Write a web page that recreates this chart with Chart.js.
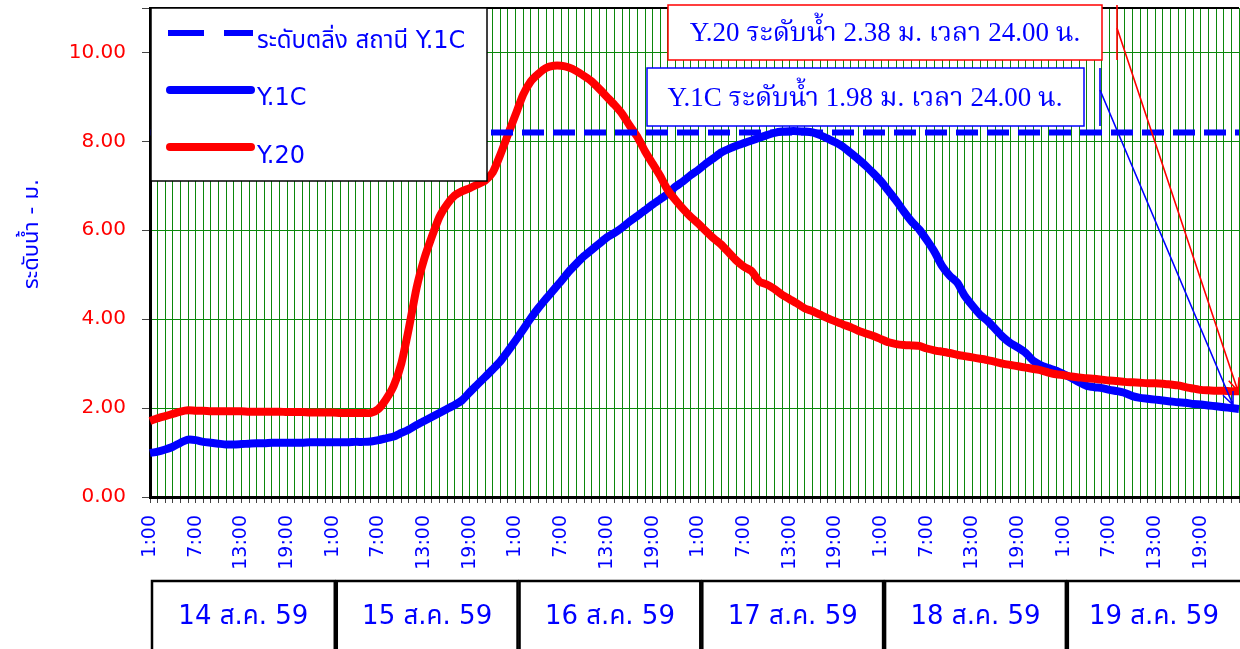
<!DOCTYPE html>
<html lang="th">
<head>
  <meta charset="UTF-8" />
  <title>ระดับน้ำ Y.1C และ Y.20</title>
  <script src="https://cdn.jsdelivr.net/npm/chart.js"></script>
  <style>
    html, body {
      margin: 0;
      padding: 0;
      background: #fff;
    }
    canvas {
      display: block;
    }
  </style>
</head>
<body>
  <canvas id="levelChart" width="1240" height="649"></canvas>

  <script>
    // days shown under the axis
    const days = ['14 ส.ค. 59', '15 ส.ค. 59', '16 ส.ค. 59', '17 ส.ค. 59', '18 ส.ค. 59', '19 ส.ค. 59'];
    const hours = ['1:00', '2:00', '3:00', '4:00', '5:00', '6:00', '7:00', '8:00', '9:00', '10:00', '11:00', '12:00',
                   '13:00', '14:00', '15:00', '16:00', '17:00', '18:00', '19:00', '20:00', '21:00', '22:00', '23:00', '24:00'];
    const tickHours = ['1:00', '7:00', '13:00', '19:00'];

    // hourly water level (m), one row per day
    const y1c = [
      0.99, 1.02, 1.07, 1.13, 1.22, 1.29, 1.28, 1.24, 1.22, 1.20, 1.18, 1.18, 1.19, 1.20, 1.21, 1.21, 1.22, 1.22, 1.22, 1.22, 1.22, 1.23, 1.23, 1.23,
      1.23, 1.23, 1.23, 1.24, 1.24, 1.25, 1.28, 1.32, 1.36, 1.44, 1.52, 1.62, 1.71, 1.80, 1.89, 1.98, 2.07, 2.18, 2.36, 2.53, 2.70, 2.87, 3.05, 3.28,
      3.52, 3.77, 4.02, 4.25, 4.46, 4.66, 4.86, 5.07, 5.25, 5.42, 5.56, 5.70, 5.84, 5.94, 6.06, 6.20, 6.32, 6.45, 6.58, 6.70, 6.82, 6.98, 7.10, 7.24,
      7.36, 7.50, 7.62, 7.75, 7.83, 7.90, 7.96, 8.02, 8.08, 8.14, 8.19, 8.22, 8.23, 8.23, 8.22, 8.20, 8.14, 8.06, 7.98, 7.88, 7.74, 7.60, 7.45, 7.28,
      7.10, 6.88, 6.66, 6.42, 6.20, 6.02, 5.78, 5.52, 5.20, 4.98, 4.82, 4.52, 4.30, 4.10, 3.96, 3.78, 3.60, 3.46, 3.36, 3.24, 3.06, 2.96, 2.90, 2.84,
      2.76, 2.68, 2.58, 2.50, 2.47, 2.45, 2.41, 2.38, 2.34, 2.27, 2.23, 2.21, 2.19, 2.17, 2.15, 2.13, 2.12, 2.09, 2.08, 2.06, 2.04, 2.02, 2.00, 1.98
    ];
    const y20 = [
      1.71, 1.77, 1.82, 1.87, 1.92, 1.95, 1.94, 1.94, 1.93, 1.93, 1.93, 1.93, 1.93, 1.92, 1.92, 1.92, 1.92, 1.92, 1.91, 1.91, 1.91, 1.90, 1.90, 1.90,
      1.90, 1.89, 1.89, 1.89, 1.89, 1.89, 1.98, 2.20, 2.50, 3.00, 3.80, 4.70, 5.35, 5.85, 6.30, 6.58, 6.78, 6.88, 6.95, 7.03, 7.12, 7.30, 7.70, 8.15,
      8.60, 9.05, 9.35, 9.52, 9.65, 9.70, 9.70, 9.66, 9.58, 9.47, 9.35, 9.18, 9.00, 8.82, 8.62, 8.35, 8.10, 7.78, 7.50, 7.22, 6.90, 6.68, 6.48, 6.30,
      6.15, 5.98, 5.82, 5.68, 5.50, 5.32, 5.18, 5.08, 4.85, 4.78, 4.68, 4.55, 4.45, 4.35, 4.24, 4.18, 4.10, 4.02, 3.95, 3.88, 3.82, 3.74, 3.68, 3.62,
      3.55, 3.48, 3.44, 3.42, 3.41, 3.40, 3.34, 3.30, 3.27, 3.24, 3.20, 3.17, 3.14, 3.11, 3.08, 3.04, 3.00, 2.97, 2.94, 2.91, 2.88, 2.85, 2.80, 2.76,
      2.74, 2.71, 2.69, 2.67, 2.66, 2.64, 2.62, 2.61, 2.59, 2.58, 2.57, 2.56, 2.56, 2.55, 2.53, 2.51, 2.47, 2.44, 2.41, 2.40, 2.39, 2.39, 2.38, 2.38
    ];
    const bankLevel = 8.20;

    const legendItems = ['ระดับตลิ่ง สถานี Y.1C', 'Y.1C', 'Y.20'];
    const noteY20 = 'Y.20 ระดับน้ำ 2.38 ม. เวลา 24.00 น.';
    const noteY1C = 'Y.1C ระดับน้ำ 1.98 ม. เวลา 24.00 น.';
    const yTitle = 'ระดับน้ำ - ม.';

    const SANS = '"DejaVu Sans", "Noto Sans Thai", "Noto Sans", sans-serif';
    const SERIF = '"Liberation Serif", "Noto Serif Thai", "DejaVu Serif", serif';
    const BLUE = '#0000ff';
    const RED = '#ff0000';
    const GRID = '#0b870b';

    // one label per hour for all days
    const labels = [];
    days.forEach(() => hours.forEach(h => labels.push(h)));

    function arrow(ctx, x1, y1, x2, y2, color) {
      const ang = Math.atan2(y2 - y1, x2 - x1);
      ctx.strokeStyle = color;
      ctx.lineWidth = 1.6;
      ctx.beginPath();
      ctx.moveTo(x1, y1);
      ctx.lineTo(x2, y2);
      ctx.moveTo(x2 - 14 * Math.cos(ang - 0.4), y2 - 14 * Math.sin(ang - 0.4));
      ctx.lineTo(x2, y2);
      ctx.lineTo(x2 - 14 * Math.cos(ang + 0.4), y2 - 14 * Math.sin(ang + 0.4));
      ctx.stroke();
    }

    const decor = {
      id: 'decor',
      afterDatasetsDraw(chart) {
        const { ctx, chartArea: a, scales: { y } } = chart;
        const yb = y.getPixelForValue(bankLevel);
        ctx.save();
        ctx.strokeStyle = BLUE;
        ctx.lineWidth = 6;
        ctx.setLineDash([22, 9]);
        ctx.beginPath();
        ctx.moveTo(a.left, yb);
        ctx.lineTo(a.right, yb);
        ctx.stroke();
        ctx.restore();
      },
      afterDraw(chart) {
        const { ctx, chartArea: a, scales: { x, y } } = chart;
        ctx.save();

        // top frame
        ctx.strokeStyle = '#000';
        ctx.lineWidth = 2;
        ctx.beginPath();
        ctx.moveTo(a.left, a.top);
        ctx.lineTo(a.right, a.top);
        ctx.stroke();

        // y title
        ctx.save();
        ctx.translate(32, 234);
        ctx.rotate(-Math.PI / 2);
        ctx.fillStyle = BLUE;
        ctx.font = '22px ' + SANS;
        ctx.textAlign = 'center';
        ctx.textBaseline = 'middle';
        ctx.fillText(yTitle, 0, 0);
        ctx.restore();

        // legend box
        const lx = a.left + 1, ly = a.top;
        ctx.fillStyle = '#fff';
        ctx.fillRect(lx, ly, 336, 173);
        ctx.strokeStyle = '#000';
        ctx.lineWidth = 1.5;
        ctx.strokeRect(lx, ly, 336, 173);

        ctx.lineCap = 'butt';
        ctx.strokeStyle = BLUE;
        ctx.lineWidth = 6;
        ctx.setLineDash([36, 20]);
        ctx.beginPath();
        ctx.moveTo(lx + 17, ly + 25);
        ctx.lineTo(lx + 102, ly + 25);
        ctx.stroke();
        ctx.setLineDash([]);

        ctx.lineCap = 'round';
        ctx.lineWidth = 8;
        ctx.beginPath();
        ctx.moveTo(lx + 19, ly + 82);
        ctx.lineTo(lx + 100, ly + 82);
        ctx.stroke();
        ctx.strokeStyle = RED;
        ctx.beginPath();
        ctx.moveTo(lx + 19, ly + 139);
        ctx.lineTo(lx + 100, ly + 139);
        ctx.stroke();
        ctx.lineCap = 'butt';

        ctx.fillStyle = BLUE;
        ctx.font = '24px ' + SANS;
        ctx.textAlign = 'left';
        ctx.textBaseline = 'alphabetic';
        ctx.fillText(legendItems[0], lx + 106, ly + 40);
        ctx.fillText(legendItems[1], lx + 106, ly + 97);
        ctx.fillText(legendItems[2], lx + 106, ly + 155);

        // note boxes
        const last = y1c.length - 1;
        ctx.fillStyle = '#fff';
        ctx.lineWidth = 1.5;
        ctx.fillRect(668, 5, 434, 55);
        ctx.strokeStyle = RED;
        ctx.strokeRect(668, 5, 434, 55);
        ctx.fillRect(647, 68, 437, 58);
        ctx.strokeStyle = BLUE;
        ctx.strokeRect(647, 68, 437, 58);

        ctx.fillStyle = BLUE;
        ctx.font = '27px ' + SERIF;
        ctx.textAlign = 'center';
        ctx.textBaseline = 'middle';
        ctx.fillText(noteY20, 885, 34);
        ctx.fillText(noteY1C, 865, 99);

        // leader marks + arrows to last readings
        ctx.strokeStyle = RED;
        ctx.lineWidth = 1.6;
        ctx.beginPath();
        ctx.moveTo(1117, 5);
        ctx.lineTo(1117, 60);
        ctx.stroke();
        arrow(ctx, 1117, 28, x.getPixelForValue(last) - 1, y.getPixelForValue(y20[last]), RED);

        ctx.strokeStyle = BLUE;
        ctx.beginPath();
        ctx.moveTo(1100, 68);
        ctx.lineTo(1100, 126);
        ctx.stroke();
        arrow(ctx, 1100, 90, x.getPixelForValue(last) - 6, y.getPixelForValue(y1c[last]) - 4, BLUE);

        // day table under the axis
        ctx.strokeStyle = '#000';
        ctx.lineWidth = 2.5;
        ctx.font = '26px ' + SANS;
        ctx.textAlign = 'center';
        ctx.textBaseline = 'alphabetic';
        days.forEach((d, i) => {
          const left = i === 0 ? x.getPixelForValue(0) + 2 : x.getPixelForValue(i * 24) + 4;
          const right = x.getPixelForValue(i * 24 + 24) + 2;
          ctx.strokeRect(left, 581, right - left, 90);
          ctx.fillStyle = BLUE;
          ctx.fillText(d, (left + Math.min(right, 1240)) / 2, 624);
        });

        ctx.restore();
      }
    };

    new Chart(document.getElementById('levelChart'), {
      type: 'line',
      data: {
        labels,
        datasets: [
          {
            label: 'Y.1C',
            data: y1c,
            borderColor: BLUE,
            borderWidth: 8,
            pointRadius: 0,
            tension: 0.2,
            order: 1
          },
          {
            label: 'Y.20',
            data: y20,
            borderColor: RED,
            borderWidth: 8,
            pointRadius: 0,
            tension: 0.2,
            order: 0
          }
        ]
      },
      options: {
        responsive: false,
        animation: false,
        layout: { padding: { top: 8, left: 0, right: 1, bottom: 0 } },
        plugins: {
          legend: { display: false },
          tooltip: { enabled: false }
        },
        scales: {
          x: {
            offset: false,
            grid: { color: GRID, lineWidth: 1, tickColor: '#444', tickLength: 6 },
            border: { color: '#000', width: 3 },
            ticks: {
              autoSkip: false,
              minRotation: 90,
              maxRotation: 90,
              padding: 12,
              color: BLUE,
              font: { family: SANS, size: 19 },
              callback(v) {
                const l = this.getLabelForValue(v);
                return tickHours.includes(l) ? l : '';
              }
            },
            afterFit(s) {
              s.height = 152;
              s.paddingLeft = 0;
              s.paddingRight = 0;
            }
          },
          y: {
            min: 0,
            max: 11,
            grid: { color: GRID, lineWidth: 1, tickColor: '#444', tickLength: 8 },
            border: { color: '#000', width: 3 },
            ticks: {
              stepSize: 2,
              padding: 16,
              color: RED,
              font: { family: SANS, size: 20 },
              callback: v => (v % 2 === 0 ? v.toFixed(2) : '')
            },
            afterFit(s) {
              s.width = 150;
              s.paddingTop = 0;
              s.paddingBottom = 0;
            }
          }
        }
      },
      plugins: [decor]
    });
  </script>
</body>
</html>
